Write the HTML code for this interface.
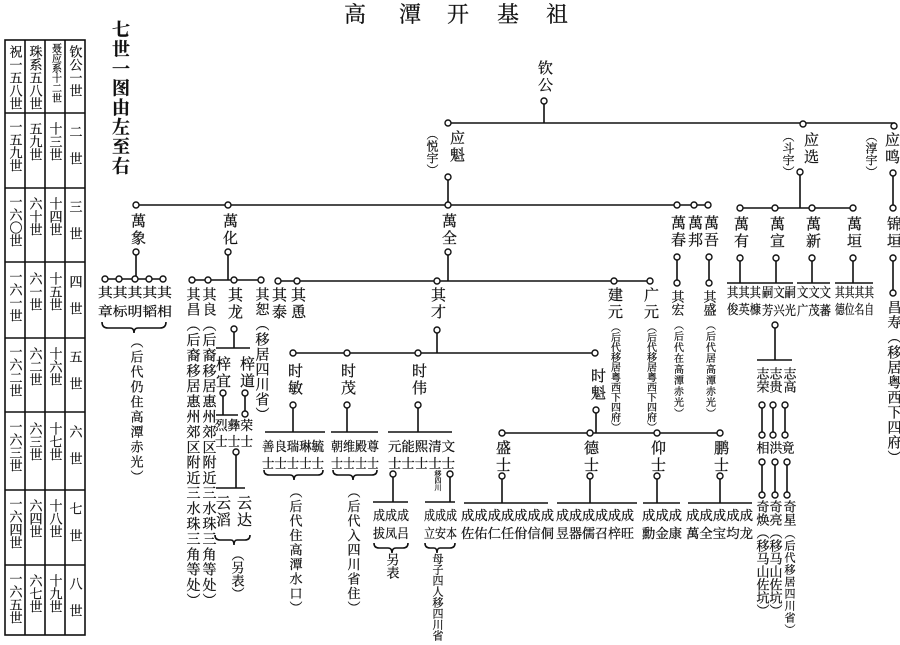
<!DOCTYPE html>
<html><head><meta charset="utf-8"><style>
html,body{margin:0;padding:0;background:#fff}
svg{display:block}
text{font-family:"Liberation Serif","Noto Serif CJK SC",serif;fill:#111;stroke:#111;stroke-width:0.25}
.v{writing-mode:vertical-rl;text-orientation:upright}
.l{stroke:#111;stroke-width:1.6;fill:none}
.c{fill:#fff;stroke:#111;stroke-width:1.4}
</style></head><body>
<svg width="900" height="645" viewBox="0 0 900 645" xmlns="http://www.w3.org/2000/svg">
<g font-size="22" text-anchor="middle">
<text x="355" y="22">高</text><text x="410" y="22">潭</text><text x="458" y="22">开</text><text x="508" y="22">基</text><text x="557" y="22">祖</text>
</g>
<text class="v" x="120" y="20" font-size="18" letter-spacing="1.5" font-weight="bold">七世一图由左至右</text>

<g class="l" stroke-width="1.3">
<rect x="5" y="40" width="80" height="595"/>
<path d="M25,40V635M45,40V635M65,40V635M5,113H85M5,188H85M5,262H85M5,338H85M5,412H85M5,490H85M5,565H85"/>
</g>
<g font-size="13">
<text class="v" x="75" y="45">钦公一世</text><text class="v" x="55" y="43" font-size="10">聂应系十二世</text><text class="v" x="35" y="45">珠系五八世</text><text class="v" x="15" y="45">祝一五八世</text>
<text class="v" x="75" y="125" letter-spacing="14">二世</text><text class="v" x="55" y="122">十三世</text><text class="v" x="35" y="122">五九世</text><text class="v" x="15" y="120">一五九世</text>
<text class="v" x="75" y="200" letter-spacing="14">三世</text><text class="v" x="55" y="197">十四世</text><text class="v" x="35" y="197">六十世</text><text class="v" x="15" y="195">一六〇世</text>
<text class="v" x="75" y="275" letter-spacing="14">四世</text><text class="v" x="55" y="272">十五世</text><text class="v" x="35" y="272">六一世</text><text class="v" x="15" y="270">一六一世</text>
<text class="v" x="75" y="350" letter-spacing="14">五世</text><text class="v" x="55" y="347">十六世</text><text class="v" x="35" y="347">六二世</text><text class="v" x="15" y="345">一六二世</text>
<text class="v" x="75" y="425" letter-spacing="14">六世</text><text class="v" x="55" y="422">十七世</text><text class="v" x="35" y="422">六三世</text><text class="v" x="15" y="420">一六三世</text>
<text class="v" x="75" y="502" letter-spacing="14">七世</text><text class="v" x="55" y="499">十八世</text><text class="v" x="35" y="499">六四世</text><text class="v" x="15" y="497">一六四世</text>
<text class="v" x="75" y="577" letter-spacing="14">八世</text><text class="v" x="55" y="574">十九世</text><text class="v" x="35" y="574">六七世</text><text class="v" x="15" y="572">一六五世</text>
</g>

<path class="l" d="
M544,104V123 M448,123H895 M448,177V205 M800,172V208 M893,173V208 M893,258V293
M136,205H708 M740,208H853
M136,252V279 M228,252V280 M448,252V281 M677,257V283 M709,257V283 M740,258V283 M776,258V283 M812,258V283 M853,258V283
M105,279H163 M192,280H262 M278,281H650 M727,283H760 M758,283H793 M797,283H830 M835,283H873
M234,329V348 M216,348H250 M223,393V415 M216,415H238 M245,393V414 M236,452V488 M216,488H245
M437,330V353 M293,353H595 M293,405V432 M347,405V432 M418,405V432 M596,410V433
M265,432H325 M331,432H378 M388,432H452 M500,433H720
M502,476V503 M590,476V503 M657,476V503 M720,476V503
M393,474V502 M373,502H408 M450,474V502 M425,502H455
M464,503H548 M557,503H637 M643,503H680 M688,503H752
M775,325V360 M757,360H792 M762,405V435 M773,405V435 M785,405V435 M762,462V495 M775,462V495 M787,462V495
"/>
<path class="l" stroke-width="1.3" d="
M102,322q0,6 6,6H130q4,0 4,5q0,-5 4,-5H160q6,0 6,-6
M215,535q0,5 5,5H231q3,0 3,5q0,-5 3,-5H245q5,0 5,-5
M264,470q0,5 5,5H290q4,0 4,5q0,-5 4,-5H318q5,0 5,-5
M333,470q0,5 5,5H349q4,0 4,5q0,-5 4,-5H372q5,0 5,-5
M374,543q0,5 5,5H388q4,0 4,5q0,-5 4,-5H403q5,0 5,-5
M425,543q0,5 5,5H434q3,0 3,5q0,-5 3,-5H450q5,0 5,-5
"/>
<g class="c">
<circle cx="544" cy="101" r="3"/><circle cx="448" cy="123" r="3"/><circle cx="803" cy="124" r="3"/><circle cx="894" cy="126" r="3"/>
<circle cx="448" cy="177" r="3"/><circle cx="800" cy="172" r="3"/><circle cx="893" cy="173" r="3"/>
<circle cx="136" cy="205" r="3"/><circle cx="228" cy="205" r="3"/><circle cx="448" cy="205" r="3"/><circle cx="677" cy="205" r="3"/><circle cx="694" cy="205" r="3"/><circle cx="708" cy="205" r="3"/>
<circle cx="740" cy="208" r="3"/><circle cx="775" cy="208" r="3"/><circle cx="812" cy="208" r="3"/><circle cx="853" cy="208" r="3"/><circle cx="893" cy="208" r="3"/>
<circle cx="136" cy="252" r="3"/><circle cx="228" cy="252" r="3"/><circle cx="448" cy="252" r="3"/><circle cx="677" cy="257" r="3"/><circle cx="709" cy="257" r="3"/>
<circle cx="740" cy="258" r="3"/><circle cx="776" cy="258" r="3"/><circle cx="812" cy="258" r="3"/><circle cx="853" cy="258" r="3"/><circle cx="893" cy="258" r="3"/>
<circle cx="105" cy="279" r="3"/><circle cx="119" cy="279" r="3"/><circle cx="135" cy="279" r="3"/><circle cx="149" cy="279" r="3"/><circle cx="163" cy="279" r="3"/>
<circle cx="192" cy="280" r="3"/><circle cx="208" cy="280" r="3"/><circle cx="234" cy="280" r="3"/><circle cx="261" cy="280" r="3"/>
<circle cx="278" cy="281" r="3"/><circle cx="297" cy="281" r="3"/><circle cx="437" cy="281" r="3"/><circle cx="614" cy="281" r="3"/><circle cx="650" cy="281" r="3"/>
<circle cx="677" cy="283" r="3"/><circle cx="709" cy="283" r="3"/><circle cx="893" cy="293" r="3"/>
<circle cx="234" cy="329" r="3"/><circle cx="223" cy="393" r="3"/><circle cx="245" cy="393" r="3"/><circle cx="245" cy="414" r="3"/><circle cx="236" cy="452" r="3"/>
<circle cx="437" cy="330" r="3"/><circle cx="293" cy="353" r="3"/><circle cx="347" cy="353" r="3"/><circle cx="418" cy="353" r="3"/><circle cx="595" cy="353" r="3"/>
<circle cx="293" cy="405" r="3"/><circle cx="347" cy="405" r="3"/><circle cx="418" cy="405" r="3"/><circle cx="596" cy="410" r="3"/>
<circle cx="502" cy="433" r="3"/><circle cx="590" cy="433" r="3"/><circle cx="657" cy="433" r="3"/><circle cx="720" cy="433" r="3"/>
<circle cx="502" cy="476" r="3"/><circle cx="590" cy="476" r="3"/><circle cx="657" cy="476" r="3"/><circle cx="720" cy="476" r="3"/>
<circle cx="393" cy="474" r="3"/><circle cx="450" cy="474" r="3"/>
<circle cx="775" cy="325" r="3"/><circle cx="762" cy="405" r="3"/><circle cx="773" cy="405" r="3"/><circle cx="785" cy="405" r="3"/>
<circle cx="762" cy="435" r="3"/><circle cx="773" cy="435" r="3"/><circle cx="785" cy="435" r="3"/>
<circle cx="762" cy="462" r="3"/><circle cx="775" cy="462" r="3"/><circle cx="787" cy="462" r="3"/>
<circle cx="762" cy="495" r="3"/><circle cx="775" cy="495" r="3"/><circle cx="787" cy="495" r="3"/>
</g>

<g font-size="15" letter-spacing="2">
<text class="v" x="544" y="60">钦公</text>
<text class="v" x="456" y="130">应魁</text><text class="v" x="810" y="132">应选</text><text class="v" x="891" y="132">应鸣</text>
<text class="v" x="137" y="213">萬象</text><text class="v" x="229" y="213">萬化</text><text class="v" x="448" y="213">萬全</text>
<text class="v" x="677" y="215">萬春</text><text class="v" x="694" y="215">萬邦</text><text class="v" x="710" y="215">萬吾</text>
<text class="v" x="740" y="216">萬有</text><text class="v" x="776" y="216">萬宣</text><text class="v" x="812" y="216">萬新</text><text class="v" x="853" y="216">萬垣</text><text class="v" x="893" y="216">锦垣</text>
<text class="v" x="234" y="287">其龙</text><text class="v" x="278" y="287">其泰</text><text class="v" x="297" y="287">其恿</text><text class="v" x="437" y="287">其才</text>
<text class="v" x="614" y="287">建元</text><text class="v" x="650" y="287">广元</text>
<text class="v" x="222" y="356">梓宜</text><text class="v" x="246" y="356">梓道</text>
<text class="v" x="222" y="495">云滔</text><text class="v" x="243" y="495">云达</text>
<text class="v" x="294" y="363">时敏</text><text class="v" x="347" y="363">时茂</text><text class="v" x="418" y="363">时伟</text><text class="v" x="597" y="368">时魁</text>
<text class="v" x="502" y="440">盛士</text><text class="v" x="590" y="440">德士</text><text class="v" x="657" y="440">仰士</text><text class="v" x="720" y="440">鹏士</text>
</g>
<g font-size="12">
<text class="v" x="432" y="128">（悦宇）</text><text class="v" x="788" y="130">（斗宇）</text><text class="v" x="871" y="130">（淳宇）</text>
</g>
<g font-size="14" letter-spacing="1">
<text class="v" x="192" y="287" letter-spacing="1.3">其昌（后裔移居惠州郊区附近三水珠三角等处）</text>
<text class="v" x="208" y="287" letter-spacing="1.3">其良（后裔移居惠州郊区附近三水珠三角等处）</text>
<text class="v" x="261" y="287">其恕（移居四川省）</text>
<text class="v" x="893" y="300">昌寿（移居粤西下四府）</text>
</g>
<g font-size="13">
<text class="v" x="136" y="335" letter-spacing="2">（后代仍住高潭赤光）</text>
<text class="v" x="237" y="548">（另表）</text>
<text class="v" x="295" y="485" letter-spacing="1.5">（后代住高潭水口）</text>
<text class="v" x="353" y="485" letter-spacing="1.5">（后代入四川省住）</text>
<text class="v" x="392" y="553">另表</text>
<text class="v" x="677" y="290">其宏</text><text class="v" x="709" y="290">其盛</text>
<text class="v" x="762" y="367">志荣</text><text class="v" x="775" y="367">志贵</text><text class="v" x="789" y="367">志高</text>
<text class="v" x="762" y="441">相</text><text class="v" x="775" y="441">洪</text><text class="v" x="787" y="441">竟</text>
<text class="v" x="762" y="500">奇焕（移马山佐坑）</text><text class="v" x="775" y="500">奇亮（移马山佐坑）</text>
<text class="v" x="789" y="500">奇星</text>
</g>
<g font-size="10">
<text class="v" x="614" y="322">（后代移居粤西下四府）</text>
<text class="v" x="650" y="322">（后代移居粤西下四府）</text>
<text class="v" x="677" y="320" letter-spacing="1">（后代在高潭赤光）</text>
<text class="v" x="709" y="320" letter-spacing="1">（后代居高潭赤光）</text>
<text class="v" x="437" y="553" font-size="11">母子四人移四川省</text>
<text class="v" x="438" y="470" font-size="7">移四川</text>
<text class="v" x="789" y="528" font-size="11" letter-spacing="1">（后代移居四川省）</text>
</g>

<g font-size="13">
<text x="98" y="297" textLength="74" lengthAdjust="spacingAndGlyphs">其其其其其</text>
<text x="98" y="316" textLength="74" lengthAdjust="spacingAndGlyphs">章标明韬相</text>
<text x="215" y="430" textLength="38" lengthAdjust="spacingAndGlyphs">烈彝荣</text>
<text x="215" y="446" textLength="38" lengthAdjust="spacingAndGlyphs">士士士</text>
<text x="262" y="451" textLength="62" lengthAdjust="spacingAndGlyphs">善良瑞琳毓</text>
<text x="262" y="468" textLength="62" lengthAdjust="spacingAndGlyphs">士士士士士</text>
<text x="331" y="451" textLength="48" lengthAdjust="spacingAndGlyphs">朝维殿尊</text>
<text x="331" y="468" textLength="48" lengthAdjust="spacingAndGlyphs">士士士士</text>
<text x="388" y="451" textLength="67" lengthAdjust="spacingAndGlyphs">元能熙清文</text>
<text x="388" y="468" textLength="67" lengthAdjust="spacingAndGlyphs">士士士士士</text>
<text x="373" y="520" textLength="36" lengthAdjust="spacingAndGlyphs">成成成</text>
<text x="373" y="538" textLength="36" lengthAdjust="spacingAndGlyphs">拔凤吕</text>
<text x="424" y="520" textLength="33" lengthAdjust="spacingAndGlyphs">成成成</text>
<text x="424" y="538" textLength="33" lengthAdjust="spacingAndGlyphs">立安本</text>
<text x="461" y="520" textLength="93" lengthAdjust="spacingAndGlyphs">成成成成成成成</text>
<text x="461" y="538" textLength="93" lengthAdjust="spacingAndGlyphs">佐佑仁任佾信侗</text>
<text x="556" y="520" textLength="78" lengthAdjust="spacingAndGlyphs">成成成成成成</text>
<text x="556" y="538" textLength="78" lengthAdjust="spacingAndGlyphs">昱器儒召梓旺</text>
<text x="642" y="520" textLength="40" lengthAdjust="spacingAndGlyphs">成成成</text>
<text x="642" y="538" textLength="40" lengthAdjust="spacingAndGlyphs">勳金康</text>
<text x="686" y="520" textLength="67" lengthAdjust="spacingAndGlyphs">成成成成成</text>
<text x="686" y="538" textLength="67" lengthAdjust="spacingAndGlyphs">萬全宝均龙</text>
<text x="727" y="297" textLength="34" lengthAdjust="spacingAndGlyphs">其其其</text>
<text x="727" y="314" textLength="34" lengthAdjust="spacingAndGlyphs">俊英槺</text>
<text x="762" y="297" textLength="34" lengthAdjust="spacingAndGlyphs">嗣文嗣</text>
<text x="762" y="315" textLength="34" lengthAdjust="spacingAndGlyphs">芳兴光</text>
<text x="797" y="297" textLength="34" lengthAdjust="spacingAndGlyphs">文文文</text>
<text x="797" y="315" textLength="34" lengthAdjust="spacingAndGlyphs">广茂蕃</text>
<text x="835" y="297" textLength="39" lengthAdjust="spacingAndGlyphs">其其其其</text>
<text x="835" y="314" textLength="39" lengthAdjust="spacingAndGlyphs">德位名自</text>
</g>
</svg>
</body></html>
